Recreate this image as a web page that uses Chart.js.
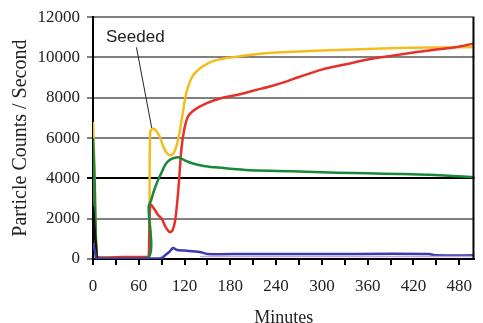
<!DOCTYPE html>
<html><head><meta charset="utf-8">
<script src="https://cdn.jsdelivr.net/npm/chart.js@4/dist/chart.umd.min.js"></script>
<style>html,body{margin:0;padding:0;background:#fff}#wrap{width:483px;height:323px}</style>
</head><body><div id="wrap"><canvas id="c" width="483" height="323"></canvas></div>
<script>
// ---- data ----
const yellowT = [0,2,5,10,40,72,74,75,78,82,87,92,97,102,107,112,117,122,127,132,140,150,160,175,190,210,240,270,300,340,380,420,460,500];
const yellowV = [6800,4500,100,50,60,50,2500,6300,6450,6400,6100,5600,5250,5150,5350,6000,7100,8200,8800,9150,9450,9700,9850,9970,10050,10150,10250,10300,10350,10400,10450,10480,10500,10520];
const redT = [0,2,5,10,40,70,73,75,80,85,90,95,100,104,108,112,116,120,125,135,150,170,190,210,240,270,300,330,360,390,420,450,475,500];
const redV = [4000,2800,150,80,100,100,100,2700,2500,2200,2000,1600,1350,1400,2000,3500,5500,6500,7100,7450,7750,8000,8150,8350,8650,9030,9400,9650,9900,10080,10250,10400,10510,10700];
const greenT = [0,2,5,10,72,73,76,80,85,90,95,100,105,112,120,130,145,160,180,200,240,280,320,360,400,440,470,500];
const greenV = [6000,4000,100,30,30,2600,2900,3400,3900,4300,4700,4900,5000,5050,4900,4750,4620,4550,4480,4420,4370,4330,4280,4250,4220,4180,4120,4060];
const blueT = [0,3,5,80,90,95,100,105,110,120,140,150,200,300,440,450,500];
const blueV = [800,300,20,20,50,200,350,550,450,420,350,250,250,250,250,180,180];
const lilacT = [140,500];
const lilacV = [120,120];
const blackT = [0,3,5];
const blackV = [2600,1000,0];
const xTickLabels = [0,60,120,180,240,300,360,420,480];
const yTickLabels = [0,2000,4000,6000,8000,10000,12000];
const seededLabel = "Seeded";
const seededText = {t:17, v:11000};
const seededLine = [{t:57, v:10500},{t:77, v:6500}];

const pts = (T,V)=>T.map((t,i)=>({x:t,y:V[i]}));
const serif = "'Liberation Serif','DejaVu Serif',serif";

const borderPlugin = {
  id:'extras',
  afterDatasetsDraw(chart){
    const {ctx, chartArea:a, scales:{x,y}} = chart;
    ctx.save();
    ctx.strokeStyle='#000'; ctx.lineWidth=2;
    ctx.beginPath(); ctx.moveTo(a.right-1,a.top); ctx.lineTo(a.right-1,a.bottom); ctx.stroke();
    // annotation
    ctx.lineWidth=1; ctx.strokeStyle='#222';
    ctx.beginPath();
    ctx.moveTo(x.getPixelForValue(seededLine[0].t), y.getPixelForValue(seededLine[0].v));
    ctx.lineTo(x.getPixelForValue(seededLine[1].t), y.getPixelForValue(seededLine[1].v));
    ctx.stroke();
    ctx.fillStyle='#222'; ctx.font="17px 'Liberation Sans',Arial,sans-serif";
    ctx.textBaseline='middle'; ctx.textAlign='left';
    ctx.fillText(seededLabel, x.getPixelForValue(seededText.t), y.getPixelForValue(seededText.v));
    ctx.restore();
  }
};

const ds = (T,V,color,w)=>({data:pts(T,V),borderColor:color,borderWidth:w,pointRadius:0,tension:0.3,fill:false});

new Chart(document.getElementById('c'),{
  type:'line',
  data:{datasets:[
    ds(lilacT,lilacV,'#c8a8d8',1.5),
    ds(blueT,blueV,'#3a3cb0',2.5),
    ds(blackT,blackV,'#111',2.5),
    ds(greenT,greenV,'#17893a',2.5),
    ds(redT,redV,'#e5312b',2.5),
    ds(yellowT,yellowV,'#f4bd1e',2.5)
  ]},
  options:{
    responsive:false, animation:false,
    layout:{padding:{top:17,right:1,left:0,bottom:0}},
    plugins:{legend:{display:false},tooltip:{enabled:false}},
    scales:{
      x:{type:'linear',min:0,max:500,
        afterFit(s){s.height=64;},
        ticks:{stepSize:30,includeBounds:false,autoSkip:false,maxRotation:0,
          color:'#222',font:{family:serif,size:17},padding:11,
          callback:(v)=>xTickLabels.includes(v)?String(v):''},
        grid:{drawOnChartArea:false,drawTicks:true,tickLength:6,color:'#000',lineWidth:2},
        border:{color:'#000',width:2},
        title:{display:true,text:'Minutes',color:'#222',font:{family:serif,size:18},padding:{top:0,bottom:-6}}
      },
      y:{min:0,max:12000,
        afterFit(s){s.width=93;},
        ticks:{stepSize:2000,color:'#222',font:{family:serif,size:17},padding:7,
          callback:(v)=>yTickLabels.includes(v)?String(v):''},
        grid:{color:(c)=>c.tick&&c.tick.value===4000?'#000':'#808080',lineWidth:2,tickLength:6},
        border:{color:'#000',width:2},
        title:{display:true,text:'Particle Counts / Second',color:'#222',font:{family:serif,size:20},padding:{top:9,bottom:0}}
      }
    }
  },
  plugins:[borderPlugin]
});
</script></body></html>
